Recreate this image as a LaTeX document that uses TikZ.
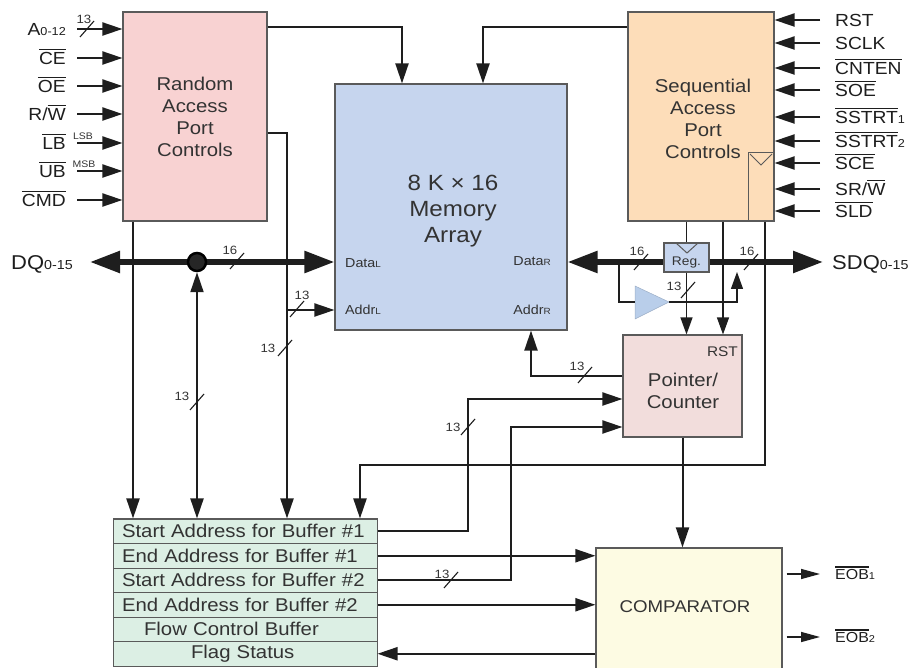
\documentclass[tikz,border=0pt]{standalone}
\usepackage{fontspec}
\setmainfont[FakeStretch=1.1]{Liberation Sans}
\usetikzlibrary{arrows.meta,calc}
\definecolor{pinkbox}{HTML}{F8D2D2}
\definecolor{peachbox}{HTML}{FDDDB9}
\definecolor{membox}{HTML}{C6D5EE}
\definecolor{regbox}{HTML}{DCEFE4}
\definecolor{ptrbox}{HTML}{F2DDDC}
\definecolor{cmpbox}{HTML}{FDFBE3}
\definecolor{bufbox}{HTML}{B9CEEA}
\definecolor{boxline}{HTML}{5A5A5A}
\definecolor{wirec}{HTML}{1E1E1E}
\definecolor{txt}{HTML}{333333}
\newcommand\fsz[2]{\fontsize{#1pt}{#2pt}\selectfont}
\newcommand\ol[1]{\setbox0\hbox{#1}\leavevmode\rlap{\rule[\dimexpr\ht0+1.8pt\relax]{\wd0}{1.1pt}}\box0}
\newcommand\smallsub[1]{{\fsz{11.5}{11.5}#1}}
\begin{document}
\begin{tikzpicture}[x=1pt,y=-1pt,
  box/.style={draw=boxline, line width=1.1pt, inner sep=0pt, text=txt},
  row/.style={draw=boxline, fill=regbox, line width=1pt, minimum width=264pt, minimum height=24.5pt, inner sep=0pt, font=\fsz{18.5}{18.5}, text=txt, text width=246pt, align=left},
  wire/.style={line width=2pt, draw=wirec},
  arr/.style={wire, -{Triangle[length=20pt,width=13pt]}},
  thinw/.style={line width=1.2pt, draw=wirec},
  thinarr/.style={thinw, -{Triangle[length=17pt,width=12pt]}},
  eobarr/.style={line width=1.5pt, draw=wirec, -{Triangle[length=19pt,width=10pt]}},
  busr/.style={line width=5.5pt, draw=wirec, -{Triangle[length=30pt,width=21pt]}},
  busl/.style={line width=5.5pt, draw=wirec, {Triangle[length=30pt,width=21pt]}-},
  bus/.style={line width=5.5pt, draw=wirec, {Triangle[length=30pt,width=21pt]}-{Triangle[length=30pt,width=21pt]}},
  lbl/.style={inner sep=0pt, font=\fsz{17.5}{17.5}, text=wirec},
  num/.style={inner sep=0pt, font=\fsz{12}{12}, text=txt},
  slashs/.style={line width=1.1pt, draw=wirec}]
\useasboundingbox (0,0) rectangle (914,668);
\clip (0,0) rectangle (914,668);

% ---------- boxes
\node[box, fill=pinkbox, minimum width=144pt, minimum height=209pt, align=center, font=\fsz{18.5}{22}] (rap) at (195,116.5) {Random\\Access\\Port\\Controls};
\node[box, fill=peachbox, minimum width=146pt, minimum height=209pt] (sap) at (701,116.5) {};
\node[align=center, font=\fsz{18.5}{22}, text=txt, inner sep=0pt] (saptxt) at (703,119) {Sequential\\Access\\Port\\Controls};
\node[box, fill=membox, minimum width=232pt, minimum height=246pt] (mem) at (451,207) {};
\node[align=center, font=\fsz{22}{26}, text=txt, inner sep=0pt] (memtxt) at (453,211) {8 K × 16\\Memory\\Array};
\node[box, fill=membox, minimum width=45pt, minimum height=29pt] (reg) at (686.5,257.5) {};
\node[font=\fsz{12.5}{12.5}, text=txt, inner sep=0pt] (regtxt) at (686.5,262) {Reg.};
\node[box, fill=ptrbox, minimum width=119pt, minimum height=102pt] (ptr) at (682.5,386) {};
\node[font=\fsz{18.5}{22}, align=center, text=txt, inner sep=0pt] (ptrtxt) at (683,391) {Pointer/\\Counter};
\node[font=\fsz{14}{14}, anchor=east, text=txt, inner sep=0pt] (rst) at (738,352) {RST};
\node[box, fill=cmpbox, minimum width=186pt, minimum height=124pt] (cmp) at (689,610) {};
\node[font=\fsz{17}{17}, text=txt, inner sep=0pt] (cmptxt) at (685,607) {COMPARATOR};

\node[row] (r1) at (245,531.25) {Start Address for Buffer \#1};
\node[row] (r2) at (245,555.75) {End Address for Buffer \#1};
\node[row] (r3) at (245,580.25) {Start Address for Buffer \#2};
\node[row] (r4) at (245,604.75) {End Address for Buffer \#2};
\node[row] (r5) at (245,629.25) {\hspace*{22pt}Flow Control Buffer};
\node[row] (r6) at (245,653.75) {\hspace*{69pt}Flag Status};

% memory port labels
\node[inner sep=0pt, anchor=base west, font=\fsz{13}{13}, text=txt] (dataL) at (345,267.5) {Data{\fsz{9}{9}L}};
\node[inner sep=0pt, anchor=base east, font=\fsz{13}{13}, text=txt] (dataR) at (551,266) {Data{\fsz{9}{9}R}};
\node[inner sep=0pt, anchor=base west, font=\fsz{13}{13}, text=txt] (addrL) at (345,315) {Addr{\fsz{9}{9}L}};
\node[inner sep=0pt, anchor=base east, font=\fsz{13}{13}, text=txt] (addrR) at (551,315) {Addr{\fsz{9}{9}R}};

% clock marks
\draw[line width=1pt, draw=boxline] (748,221) -- (748,153) -- (sap.east |- 0,153);
\draw[line width=1pt, draw=boxline] (750,154) -- (761,165) -- (772,154);
\draw[line width=1pt, draw=boxline] (676,243) -- (687,253) -- (698,243);

% buffer triangle
\coordinate (bufin) at (635,302);
\coordinate (bufout) at (669,302);
\filldraw[fill=bufbox, draw=bufbox!85!black, line width=0.5pt] (635,286) -- (bufout) -- (635,319) -- cycle;

% ---------- left inputs
\foreach \y/\t [count=\i] in {29/{A\smallsub{0-12}}, 58/\ol{CE}, 86/\ol{OE}, 114/{R/\ol{W}}, 143/\ol{LB}, 171/\ol{UB}, 200/\ol{CMD}} {
  \node[lbl, anchor=base east] (ll\i) at (66,\y+6.2) {\t};
  \coordinate (li\i) at (77,\y);
  \draw[arr] (li\i) -- (li\i -| rap.west);
}
\node[inner sep=0pt, font=\fsz{9.5}{9.5}, text=txt] (lsb) at (83,136.5) {LSB};
\node[inner sep=0pt, font=\fsz{9.5}{9.5}, text=txt] (msb) at (84,164.5) {MSB};

% ---------- right inputs
\foreach \y/\t [count=\i] in {20/RST, 43/SCLK, 68/\ol{CNTEN}, 90/\ol{SOE}, 117/{\ol{SSTRT}\smallsub{1}}, 141/{\ol{SSTRT}\smallsub{2}}, 163/\ol{SCE}, 189/{SR/\ol{W}}, 211/\ol{SLD}} {
  \node[lbl, anchor=base west] (rl\i) at (835,\y+6.2) {\t};
  \coordinate (ri\i) at (820,\y);
  \draw[arr] (ri\i) -- (ri\i -| sap.east);
}

% ---------- wires
\coordinate (t1) at (402,27); \coordinate (t2) at (483,27);
\draw[arr] (rap.east |- t1) -- (t1) -- (t1 |- mem.north);
\draw[arr] (sap.west |- t2) -- (t2) -- (t2 |- mem.north);

\coordinate (v1) at (133,0);
\draw[arr] (v1 |- rap.south) -- (v1 |- r1.north);
\coordinate (v3) at (287,133);
\draw[arr] (rap.east |- v3) -- (v3) -- (v3 |- r1.north);
\coordinate (aL) at (287,310);
\draw[arr] (aL) -- (aL -| mem.west);

\coordinate (s3) at (765,465); \coordinate (s4) at (360,465);
\draw[arr] (s3 |- sap.south) -- (s3) -- (s4) -- (s4 |- r1.north);

\draw[thinw] (reg.north |- sap.south) -- (reg.north);
\coordinate (s2) at (723,0);
\draw[thinarr] (s2 |- sap.south) -- (s2 |- ptr.north);
\draw[thinarr] (reg.south) -- (reg.south |- ptr.north);

\coordinate (bL) at (619,262);
\coordinate (bup) at (737,272);
\draw[thinw] (bL) |- (bufin);
\draw[thinarr] (bufout) -| (bup);

\coordinate (pa) at (531,376);
\draw[arr] (ptr.west |- pa) -- (pa) -- (pa |- mem.south);
\draw[arr] (ptr.south) -- (ptr.south |- cmp.north);
\coordinate (p1) at (468,399);
\draw[arr] (r1.east) -| (p1) -- (p1 -| ptr.west);
\coordinate (p2) at (511,427);
\draw[arr] (r3.east) -| (p2) -- (p2 -| ptr.west);

\draw[arr] (r2.east) -- (r2.east -| cmp.west);
\draw[arr] (r4.east) -- (r4.east -| cmp.west);
\draw[arr] (r6.east -| cmp.west) -- (r6.east);

% comparator outputs
\node[lbl, anchor=base west, font=\fsz{14.5}{14.5}] (eob1) at (835,579.5) {\ol{EOB}{\fsz{10}{10}1}};
\node[lbl, anchor=base west, font=\fsz{14.5}{14.5}] (eob2) at (835,642.5) {\ol{EOB}{\fsz{10}{10}2}};
\coordinate (e1) at (820,574); \coordinate (e2) at (820,637);
\draw[eobarr] ($(cmp.east |- e1)+(4,0)$) -- (e1);
\draw[eobarr] ($(cmp.east |- e2)+(4,0)$) -- (e2);

% ---------- buses
\node[inner sep=0pt, anchor=base west, font=\fsz{20}{20}, text=wirec] (dq) at (11,269.5) {DQ{\fsz{13}{13}0-15}};
\node[inner sep=0pt, anchor=base west, font=\fsz{20}{20}, text=wirec] (sdq) at (832,269.5) {SDQ{\fsz{13}{13}0-15}};
\coordinate (busL) at (90,262);
\coordinate (busR) at (823,262);
\draw[bus] (busL) -- (mem.west |- busL);
\draw[busl] (mem.east |- busL) -- (reg.west |- busL);
\draw[busr] (reg.east |- busL) -- (busR);
\node[circle, fill=black!85, draw=black, line width=2.5pt, minimum size=18pt, inner sep=0pt] (dot) at (197,262) {};
\draw[wire, {Triangle[length=20pt,width=13pt]}-{Triangle[length=20pt,width=13pt]}] (dot.south) -- (dot.south |- r1.north);

% ---------- bus width marks
\foreach \x/\y/\lx/\ly/\t [count=\i] in {87/29/84/19/13, 237/261/230/250/16, 297/309/302/295/13, 285/348/268/348/13, 197/402/182/396/13, 641/262/637/251/16, 751/262/747/251/16, 688/290/674/286/13, 585/375/577/366/13, 468/427/453/427/13, 451/580/442/574/13} {
  \draw[slashs] (\x-7,\y+8) -- (\x+7,\y-8);
  \node[num] (wm\i) at (\lx,\ly) {\t};
}
\end{tikzpicture}
\end{document}
